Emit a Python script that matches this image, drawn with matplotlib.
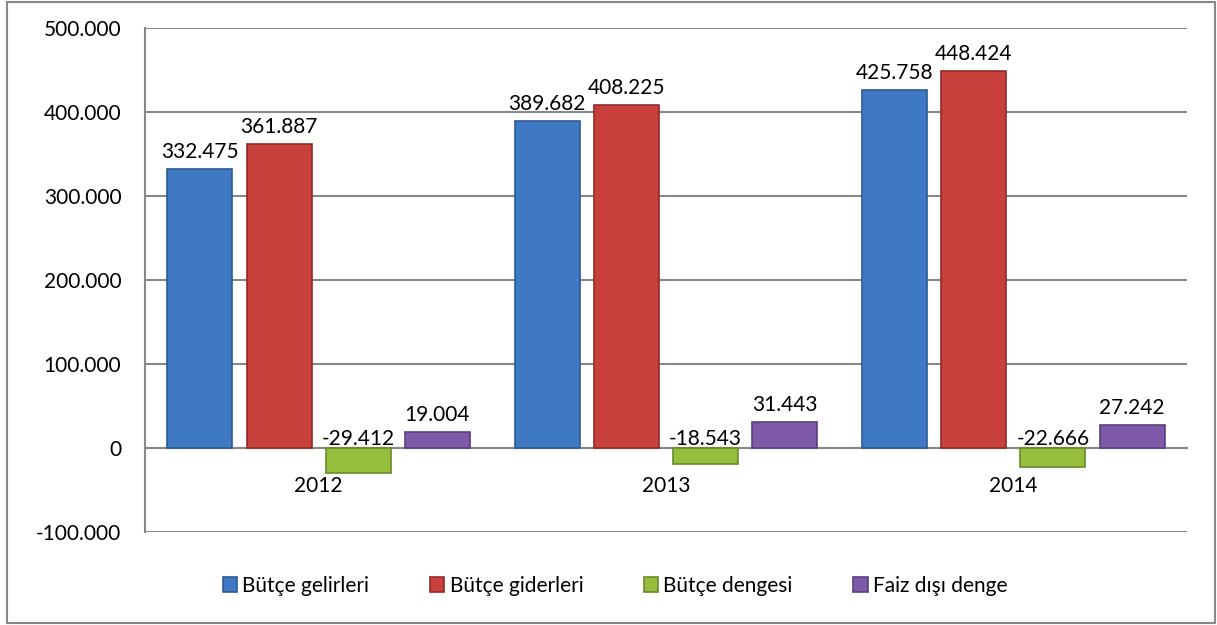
import matplotlib.pyplot as plt
import numpy as np
from matplotlib.patches import Rectangle

years = ['2012', '2013', '2014']
series = ['Bütçe gelirleri', 'Bütçe giderleri', 'Bütçe dengesi', 'Faiz dışı denge']
gelirler = [332.475, 389.682, 425.758]
giderler = [361.887, 408.225, 448.424]
denge = [-29.412, -18.543, -22.666]
faiz_disi = [19.004, 31.443, 27.242]
yticks = [-100, 0, 100, 200, 300, 400, 500]
ytick_labels = ['-100.000', '0', '100.000', '200.000', '300.000', '400.000', '500.000']

colors = ['#3f79c4', '#c9403d', '#94be3c', '#7f5aaa']
edges = ['#2c5a94', '#8f2b29', '#6a8a28', '#5a3f7e']

plt.rcParams['font.family'] = ['Lato', 'DejaVu Sans']
fs = 15

fig = plt.figure(figsize=(12.17, 6.25), dpi=100)
ax = fig.add_axes([145 / 1217, 1 - 532 / 625, (1187 - 145) / 1217, (532 - 28) / 625])

x = np.arange(len(years))
w = 0.187
step = 0.228
data = [gelirler, giderler, denge, faiz_disi]
for i, vals in enumerate(data):
    pos = x + (i - 1.5) * step
    ax.bar(pos, vals, width=w, color=colors[i], edgecolor=edges[i], linewidth=1.2,
           label=series[i], zorder=3)
    for xp, v in zip(pos, vals):
        txt = f'{v:.3f}'
        if v >= 0:
            ax.annotate(txt, (xp, v), xytext=(0, 5), textcoords='offset points',
                        ha='center', va='bottom', fontsize=fs, zorder=4)
        else:
            ax.annotate(txt, (xp, 0), xytext=(0, -1), textcoords='offset points',
                        ha='center', va='bottom', fontsize=fs, zorder=4)

for s in ['top', 'right']:
    ax.spines[s].set_visible(False)
ax.spines['bottom'].set_position(('data', 0))
ax.spines['bottom'].set_color('#888888')
ax.spines['bottom'].set_linewidth(1.5)
ax.spines['left'].set_color('#888888')
ax.spines['left'].set_linewidth(1.5)

ax.set_xlim(-0.5, 2.5)
ax.set_ylim(-100, 500)
ax.set_yticks(yticks)
ax.set_yticklabels(ytick_labels)
ax.set_xticks(x)
ax.set_xticklabels(years)
ax.tick_params(axis='x', length=0, pad=20, labelsize=fs)
ax.tick_params(axis='y', length=0, pad=17, labelsize=fs)
ax.grid(axis='y', color='#888888', linewidth=1.5, zorder=1)

leg = fig.legend(loc='center', bbox_to_anchor=(615 / 1217, 1 - 586 / 625), ncol=4,
                 frameon=False, fontsize=fs, handlelength=0.7, handleheight=0.7,
                 handletextpad=0.25, columnspacing=2.9)

fig.patches.append(Rectangle((7 / 1217, 2 / 625), (1215 - 7) / 1217, 1 - 4 / 625,
                             transform=fig.transFigure, fill=False,
                             edgecolor='#888888', linewidth=1.5))

fig.savefig('out.png', dpi=100)
